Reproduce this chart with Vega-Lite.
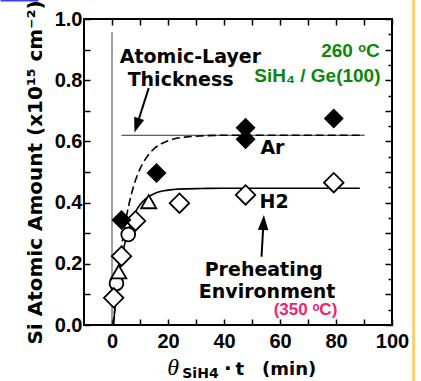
{
"$schema":"https://vega.github.io/schema/vega-lite/v6.json",
"width":308,"height":306,
"autosize":{"type":"none"},
"padding":{"left":84,"top":19,"right":29,"bottom":56},
"background":"white",
"config":{
 "view":{"stroke":"black","strokeWidth":2},
 "axis":{"domain":false,"grid":false,"ticks":true,"tickColor":"black","tickWidth":1.5,"labelFont":"Liberation Sans","labelFontWeight":"bold","labelFontSize":20,"labelColor":"black","labelFlush":false,"labelOverlap":false}
},
"datasets":{
 "curves":[
  {"series":"Ar","x":0.5,"y":0},{"series":"Ar","x":0.8,"y":0.033},{"series":"Ar","x":1,"y":0.054},{"series":"Ar","x":1.5,"y":0.103},{"series":"Ar","x":2,"y":0.148},{"series":"Ar","x":3,"y":0.226},{"series":"Ar","x":4,"y":0.292},{"series":"Ar","x":5,"y":0.346},{"series":"Ar","x":6,"y":0.392},{"series":"Ar","x":7,"y":0.43},{"series":"Ar","x":8,"y":0.462},{"series":"Ar","x":10,"y":0.51},{"series":"Ar","x":12,"y":0.543},{"series":"Ar","x":15,"y":0.576},{"series":"Ar","x":18,"y":0.594},{"series":"Ar","x":22,"y":0.608},{"series":"Ar","x":26,"y":0.614},{"series":"Ar","x":32,"y":0.618},{"series":"Ar","x":40,"y":0.62},{"series":"Ar","x":90,"y":0.62},
  {"series":"H2","x":0.5,"y":0},{"series":"H2","x":0.7,"y":0.02},{"series":"H2","x":1,"y":0.047},{"series":"H2","x":1.5,"y":0.089},{"series":"H2","x":2,"y":0.127},{"series":"H2","x":3,"y":0.19},{"series":"H2","x":4,"y":0.242},{"series":"H2","x":5,"y":0.283},{"series":"H2","x":6,"y":0.315},{"series":"H2","x":7,"y":0.342},{"series":"H2","x":8,"y":0.363},{"series":"H2","x":10,"y":0.393},{"series":"H2","x":12,"y":0.412},{"series":"H2","x":15,"y":0.429},{"series":"H2","x":18,"y":0.438},{"series":"H2","x":22,"y":0.443},{"series":"H2","x":26,"y":0.445},{"series":"H2","x":32,"y":0.446},{"series":"H2","x":40,"y":0.447},{"series":"H2","x":88.5,"y":0.447}
 ],
 "points":[
  {"group":"Ar diamond","x":3.4,"y":0.343},{"group":"Ar diamond","x":15.9,"y":0.497},{"group":"Ar diamond","x":47.7,"y":0.645},{"group":"Ar diamond","x":47.7,"y":0.607},{"group":"Ar diamond","x":79.2,"y":0.675},
  {"group":"H2 diamond","x":0.6,"y":0.089},{"group":"H2 diamond","x":3.4,"y":0.225},{"group":"H2 diamond","x":8.4,"y":0.34},{"group":"H2 diamond","x":24.1,"y":0.398},{"group":"H2 diamond","x":47.7,"y":0.425},{"group":"H2 diamond","x":79.2,"y":0.465},
  {"group":"H2 circle","x":1.6,"y":0.136},{"group":"H2 circle","x":5.8,"y":0.296},
  {"group":"H2 triangle","x":2.4,"y":0.174},{"group":"H2 triangle","x":13.1,"y":0.403}
 ],
 "lines":[
  {"name":"zero","x":0,"y":0,"x2":0,"y2":0.957},
  {"name":"monolayer","x":3.4,"y":0.62,"x2":90.2,"y2":0.62}
 ],
 "arrows":[
  {"name":"thickness","x":13.1,"y":0.774,"x2":8.86,"y2":0.652},
  {"name":"preheat","x":53.4,"y":0.223,"x2":54.1,"y2":0.335}
 ],
 "edge":[
  {"name":"orange","x":107.7,"y":-0.2,"x2":107.7,"y2":1.07},
  {"name":"blue","x":-39.8,"y":1.06,"x2":-26.3,"y2":1.06}
 ],
 "labels":[
  {"kind":"note","text":"Atomic-Layer","x":28.0,"y":0.857},
  {"kind":"note","text":"Thickness","x":24.5,"y":0.781},
  {"kind":"note","text":"Preheating","x":54.2,"y":0.16},
  {"kind":"note","text":"Environment","x":55.4,"y":0.089},
  {"kind":"tag","text":"Ar","x":53.0,"y":0.559},
  {"kind":"tag","text":"H2","x":52.7,"y":0.381},
  {"kind":"green","text":"260 ᵒC","x":95.6,"y":0.875},
  {"kind":"green","text":"SiH₄ / Ge(100)","x":95.9,"y":0.795},
  {"kind":"pink","text":"(350 ᵒC)","x":69.1,"y":0.033},
  {"kind":"theta","text":"θ","x":19.7,"y":-0.165},
  {"kind":"sub","text":"SiH4","x":25.1,"y":-0.172},
  {"kind":"dot","text":"·","x":41.4,"y":-0.165},
  {"kind":"unit","text":"t","x":44.1,"y":-0.165},
  {"kind":"unit","text":"(min)","x":53.6,"y":-0.165}
 ]
},
"layer":[
 {"data":{"name":"edge"},"transform":[{"filter":"datum.name === 'orange'"}],
  "mark":{"type":"rule","color":"#fccf75","strokeWidth":3},
  "encoding":{"x":{"field":"x","type":"quantitative","scale":{"domain":[-10,100],"nice":false,"zero":false},"axis":null},"y":{"field":"y","type":"quantitative","scale":{"domain":[0,1],"nice":false,"zero":false},"axis":null},"x2":{"field":"x2"},"y2":{"field":"y2"}}},
 {"data":{"name":"edge"},"transform":[{"filter":"datum.name === 'blue'"}],
  "mark":{"type":"rule","color":"#3344ee","strokeWidth":1.5},
  "encoding":{"x":{"field":"x","type":"quantitative","scale":{"domain":[-10,100],"nice":false,"zero":false},"axis":null},"y":{"field":"y","type":"quantitative","scale":{"domain":[0,1],"nice":false,"zero":false},"axis":null},"x2":{"field":"x2"},"y2":{"field":"y2"}}},
 {"data":{"name":"lines"},"transform":[{"filter":"datum.name === 'zero'"}],
  "mark":{"type":"rule","color":"#444","strokeWidth":1},
  "encoding":{
   "x":{"field":"x","type":"quantitative","scale":{"domain":[-10,100],"nice":false,"zero":false},
    "axis":{"orient":"bottom","values":[0,10,20,30,40,50,60,70,80,90,100],"labelExpr":"datum.value % 20 === 0 ? datum.label : ''","tickSize":-6,"labelPadding":12,"title":null}},
   "y":{"field":"y","type":"quantitative","scale":{"domain":[0,1],"nice":false,"zero":false},
    "axis":{"orient":"left","values":[0,0.1,0.2,0.3,0.4,0.5,0.6,0.7,0.8,0.9,1],"labelExpr":"round(datum.value*10) % 2 === 0 ? format(datum.value, '.1f') : ''","tickSize":-6,"labelPadding":8,
     "title":"Si Atomic Amount (x10¹⁵ cm⁻²)","titleFont":"DejaVu Sans","titleFontWeight":"bold","titleFontSize":20,"titleColor":"black","titlePadding":9}},
   "x2":{"field":"x2"},"y2":{"field":"y2"}}},
 {"data":{"name":"lines"},"transform":[{"filter":"datum.name === 'monolayer'"}],
  "mark":{"type":"rule","color":"#333","strokeWidth":1},
  "encoding":{
   "x":{"field":"x","type":"quantitative","scale":{"domain":[-10,100],"nice":false,"zero":false},
    "axis":{"orient":"top","values":[0,10,20,30,40,50,60,70,80,90,100],"labels":false,"tickSize":-6,"title":null}},
   "y":{"field":"y","type":"quantitative","scale":{"domain":[0,1],"nice":false,"zero":false},
    "axis":{"orient":"right","values":[0,0.05,0.1,0.15,0.2,0.25,0.3,0.35,0.4,0.45,0.5,0.55,0.6,0.65,0.7,0.75,0.8,0.85,0.9,0.95,1],"labels":false,"tickSize":{"condition":{"test":"abs(datum.value*10 - round(datum.value*10)) < 0.01","value":-7},"value":-4},"title":null}},
   "x2":{"field":"x2"},"y2":{"field":"y2"}}},
 {"data":{"name":"curves"},"transform":[{"filter":"datum.series === 'Ar'"}],
  "mark":{"type":"line","color":"black","strokeWidth":1.6,"strokeDash":[8,4],"interpolate":"monotone"},
  "encoding":{"x":{"field":"x","type":"quantitative","scale":{"domain":[-10,100],"nice":false,"zero":false},"axis":null},"y":{"field":"y","type":"quantitative","scale":{"domain":[0,1],"nice":false,"zero":false},"axis":null}}},
 {"data":{"name":"curves"},"transform":[{"filter":"datum.series === 'H2'"}],
  "mark":{"type":"line","color":"black","strokeWidth":1.6,"interpolate":"monotone"},
  "encoding":{"x":{"field":"x","type":"quantitative","scale":{"domain":[-10,100],"nice":false,"zero":false},"axis":null},"y":{"field":"y","type":"quantitative","scale":{"domain":[0,1],"nice":false,"zero":false},"axis":null}}},
 {"data":{"name":"arrows"},
  "mark":{"type":"rule","color":"black","strokeWidth":2},
  "encoding":{"x":{"field":"x","type":"quantitative","scale":{"domain":[-10,100],"nice":false,"zero":false},"axis":null},"y":{"field":"y","type":"quantitative","scale":{"domain":[0,1],"nice":false,"zero":false},"axis":null},"x2":{"field":"x2"},"y2":{"field":"y2"}}},
 {"data":{"name":"arrows"},"transform":[{"filter":"datum.name === 'thickness'"}],
  "mark":{"type":"point","shape":"M0,-1L0.7,1L-0.7,1Z","filled":true,"color":"black","opacity":1,"size":225,"angle":198},
  "encoding":{"x":{"field":"x2","type":"quantitative","scale":{"domain":[-10,100],"nice":false,"zero":false},"axis":null},"y":{"field":"y2","type":"quantitative","scale":{"domain":[0,1],"nice":false,"zero":false},"axis":null}}},
 {"data":{"name":"arrows"},"transform":[{"filter":"datum.name === 'preheat'"}],
  "mark":{"type":"point","shape":"M0,-1L0.7,1L-0.7,1Z","filled":true,"color":"black","opacity":1,"size":225,"angle":3},
  "encoding":{"x":{"field":"x2","type":"quantitative","scale":{"domain":[-10,100],"nice":false,"zero":false},"axis":null},"y":{"field":"y2","type":"quantitative","scale":{"domain":[0,1],"nice":false,"zero":false},"axis":null}}},
 {"data":{"name":"points"},"transform":[{"filter":"datum.group === 'H2 circle'"}],
  "mark":{"type":"point","shape":"circle","filled":true,"fill":"white","stroke":"black","strokeWidth":1.8,"opacity":1,"size":190},
  "encoding":{"x":{"field":"x","type":"quantitative","scale":{"domain":[-10,100],"nice":false,"zero":false},"axis":null},"y":{"field":"y","type":"quantitative","scale":{"domain":[0,1],"nice":false,"zero":false},"axis":null}}},
 {"data":{"name":"points"},"transform":[{"filter":"datum.group === 'H2 triangle'"}],
  "mark":{"type":"point","shape":"triangle-up","filled":true,"fill":"white","stroke":"black","strokeWidth":1.8,"opacity":1,"size":230},
  "encoding":{"x":{"field":"x","type":"quantitative","scale":{"domain":[-10,100],"nice":false,"zero":false},"axis":null},"y":{"field":"y","type":"quantitative","scale":{"domain":[0,1],"nice":false,"zero":false},"axis":null}}},
 {"data":{"name":"points"},"transform":[{"filter":"datum.group === 'H2 diamond'"}],
  "mark":{"type":"point","shape":"diamond","filled":true,"fill":"white","stroke":"black","strokeWidth":1.8,"opacity":1,"size":380},
  "encoding":{"x":{"field":"x","type":"quantitative","scale":{"domain":[-10,100],"nice":false,"zero":false},"axis":null},"y":{"field":"y","type":"quantitative","scale":{"domain":[0,1],"nice":false,"zero":false},"axis":null}}},
 {"data":{"name":"points"},"transform":[{"filter":"datum.group === 'Ar diamond'"}],
  "mark":{"type":"point","shape":"diamond","filled":true,"color":"black","opacity":1,"size":400},
  "encoding":{"x":{"field":"x","type":"quantitative","scale":{"domain":[-10,100],"nice":false,"zero":false},"axis":null},"y":{"field":"y","type":"quantitative","scale":{"domain":[0,1],"nice":false,"zero":false},"axis":null}}},
 {"data":{"name":"labels"},"transform":[{"filter":"datum.kind === 'note'"}],
  "mark":{"type":"text","font":"DejaVu Sans","fontWeight":"bold","fontSize":19,"color":"black","align":"center","baseline":"alphabetic"},
  "encoding":{"x":{"field":"x","type":"quantitative","scale":{"domain":[-10,100],"nice":false,"zero":false},"axis":null},"y":{"field":"y","type":"quantitative","scale":{"domain":[0,1],"nice":false,"zero":false},"axis":null},"text":{"field":"text"}}},
 {"data":{"name":"labels"},"transform":[{"filter":"datum.kind === 'tag'"}],
  "mark":{"type":"text","font":"DejaVu Sans","fontWeight":"bold","fontSize":19,"color":"black","align":"left","baseline":"alphabetic"},
  "encoding":{"x":{"field":"x","type":"quantitative","scale":{"domain":[-10,100],"nice":false,"zero":false},"axis":null},"y":{"field":"y","type":"quantitative","scale":{"domain":[0,1],"nice":false,"zero":false},"axis":null},"text":{"field":"text"}}},
 {"data":{"name":"labels"},"transform":[{"filter":"datum.kind === 'green'"}],
  "mark":{"type":"text","font":"Liberation Sans","fontWeight":"bold","fontSize":19,"color":"#0a870a","align":"right","baseline":"alphabetic"},
  "encoding":{"x":{"field":"x","type":"quantitative","scale":{"domain":[-10,100],"nice":false,"zero":false},"axis":null},"y":{"field":"y","type":"quantitative","scale":{"domain":[0,1],"nice":false,"zero":false},"axis":null},"text":{"field":"text"}}},
 {"data":{"name":"labels"},"transform":[{"filter":"datum.kind === 'pink'"}],
  "mark":{"type":"text","font":"Liberation Sans","fontWeight":"bold","fontSize":17,"color":"#f0246e","align":"center","baseline":"alphabetic"},
  "encoding":{"x":{"field":"x","type":"quantitative","scale":{"domain":[-10,100],"nice":false,"zero":false},"axis":null},"y":{"field":"y","type":"quantitative","scale":{"domain":[0,1],"nice":false,"zero":false},"axis":null},"text":{"field":"text"}}},
 {"data":{"name":"labels"},"transform":[{"filter":"datum.kind === 'theta'"}],
  "mark":{"type":"text","font":"Liberation Serif","fontStyle":"italic","fontSize":24,"color":"black","align":"left","baseline":"alphabetic"},
  "encoding":{"x":{"field":"x","type":"quantitative","scale":{"domain":[-10,100],"nice":false,"zero":false},"axis":null},"y":{"field":"y","type":"quantitative","scale":{"domain":[0,1],"nice":false,"zero":false},"axis":null},"text":{"field":"text"}}},
 {"data":{"name":"labels"},"transform":[{"filter":"datum.kind === 'sub'"}],
  "mark":{"type":"text","font":"DejaVu Sans","fontWeight":"bold","fontSize":14,"color":"black","align":"left","baseline":"alphabetic"},
  "encoding":{"x":{"field":"x","type":"quantitative","scale":{"domain":[-10,100],"nice":false,"zero":false},"axis":null},"y":{"field":"y","type":"quantitative","scale":{"domain":[0,1],"nice":false,"zero":false},"axis":null},"text":{"field":"text"}}},
 {"data":{"name":"labels"},"transform":[{"filter":"datum.kind === 'dot'"}],
  "mark":{"type":"text","font":"DejaVu Sans","fontWeight":"bold","fontSize":20,"color":"black","align":"center","baseline":"alphabetic"},
  "encoding":{"x":{"field":"x","type":"quantitative","scale":{"domain":[-10,100],"nice":false,"zero":false},"axis":null},"y":{"field":"y","type":"quantitative","scale":{"domain":[0,1],"nice":false,"zero":false},"axis":null},"text":{"field":"text"}}},
 {"data":{"name":"labels"},"transform":[{"filter":"datum.kind === 'unit'"}],
  "mark":{"type":"text","font":"DejaVu Sans","fontWeight":"bold","fontSize":18,"color":"black","align":"left","baseline":"alphabetic"},
  "encoding":{"x":{"field":"x","type":"quantitative","scale":{"domain":[-10,100],"nice":false,"zero":false},"axis":null},"y":{"field":"y","type":"quantitative","scale":{"domain":[0,1],"nice":false,"zero":false},"axis":null},"text":{"field":"text"}}}
],
"resolve":{"axis":{"x":"independent","y":"independent"}}
}
